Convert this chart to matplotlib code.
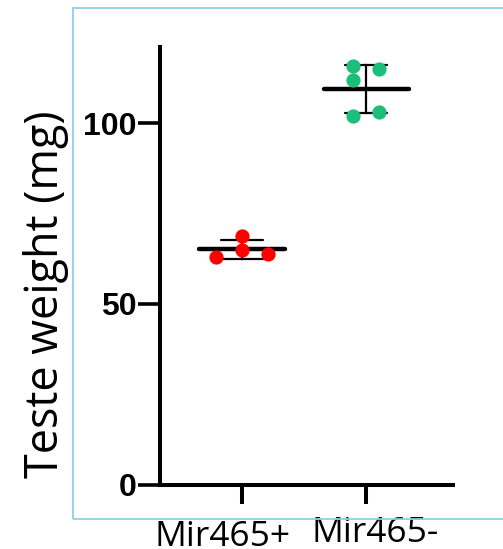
import matplotlib.pyplot as plt
import matplotlib.patches as mpatches
import numpy as np

# data (mg)
groups = ['Mir465+', 'Mir465-']
mir_pos = [68.9, 64.8, 63.0, 63.9]
mir_neg = [115.8, 114.9, 111.9, 101.8, 103.0]
colors = ['#ff0000', '#1bbf7a']
yticks = [0, 50, 100]

# horizontal scatter of the dots inside each group
jitter = [[0.0, 0.0, -0.21, 0.21], [-0.105, 0.105, -0.105, -0.105, 0.105]]
# the group labels sit a little off their ticks in the original (points)
label_shift = [(-14, -25.2), (6.5, -22.3)]

fig = plt.figure(figsize=(5.03, 5.49), dpi=100)
ax = fig.add_axes([0.318, 0.1166, 0.5825, 0.7978])

# light blue frame round the panel
fig.patches.append(mpatches.Rectangle((73 / 503, (549 - 519) / 549), 1.0, (519 - 8) / 549,
                                      transform=fig.transFigure, fill=False,
                                      edgecolor='#8fd0ea', linewidth=1.3))

for i, vals in enumerate([mir_pos, mir_neg]):
    x = i + 1
    vals = np.array(vals)
    m = vals.mean()
    sd = vals.std(ddof=1)
    ax.plot([x - 0.343, x + 0.343], [m, m], color='black', lw=3.2, solid_capstyle='round', zorder=2)
    ax.plot([x, x], [m - sd, m + sd], color='black', lw=1.6, zorder=2)
    for y in (m - sd, m + sd):
        ax.plot([x - 0.17, x + 0.17], [y, y], color='black', lw=1.6, solid_capstyle='round', zorder=2)
    ax.scatter(x + np.array(jitter[i]), vals, s=105, color=colors[i], linewidths=0, zorder=3)

    ax.annotate(groups[i], xy=(x, 0), xycoords=('data', 'axes fraction'),
                xytext=label_shift[i], textcoords='offset points',
                ha='center', va='top', fontfamily='Open Sans', fontsize=25.5,
                annotation_clip=False)

ax.set_xlim(0.339, 2.70)
ax.set_ylim(0, 121)
ax.set_yticks(yticks)
ax.set_xticks([1, 2])
ax.set_xticklabels([])
for t in ax.get_yticklabels():
    t.set_fontfamily('Liberation Sans')
    t.set_fontweight('bold')
    t.set_fontsize(23)

ax.tick_params(axis='y', length=16, width=2.6, pad=1)
ax.tick_params(axis='x', length=14, width=2.9)
for s in ['top', 'right']:
    ax.spines[s].set_visible(False)
for s in ['left', 'bottom']:
    ax.spines[s].set_linewidth(2.9)
    ax.spines[s].set_capstyle('projecting')

ax.set_ylabel('Teste weight (mg)', fontfamily='Open Sans', fontsize=32.3)
ax.yaxis.set_label_coords(-0.31, 0.435)

fig.savefig('out.png', dpi=100)
